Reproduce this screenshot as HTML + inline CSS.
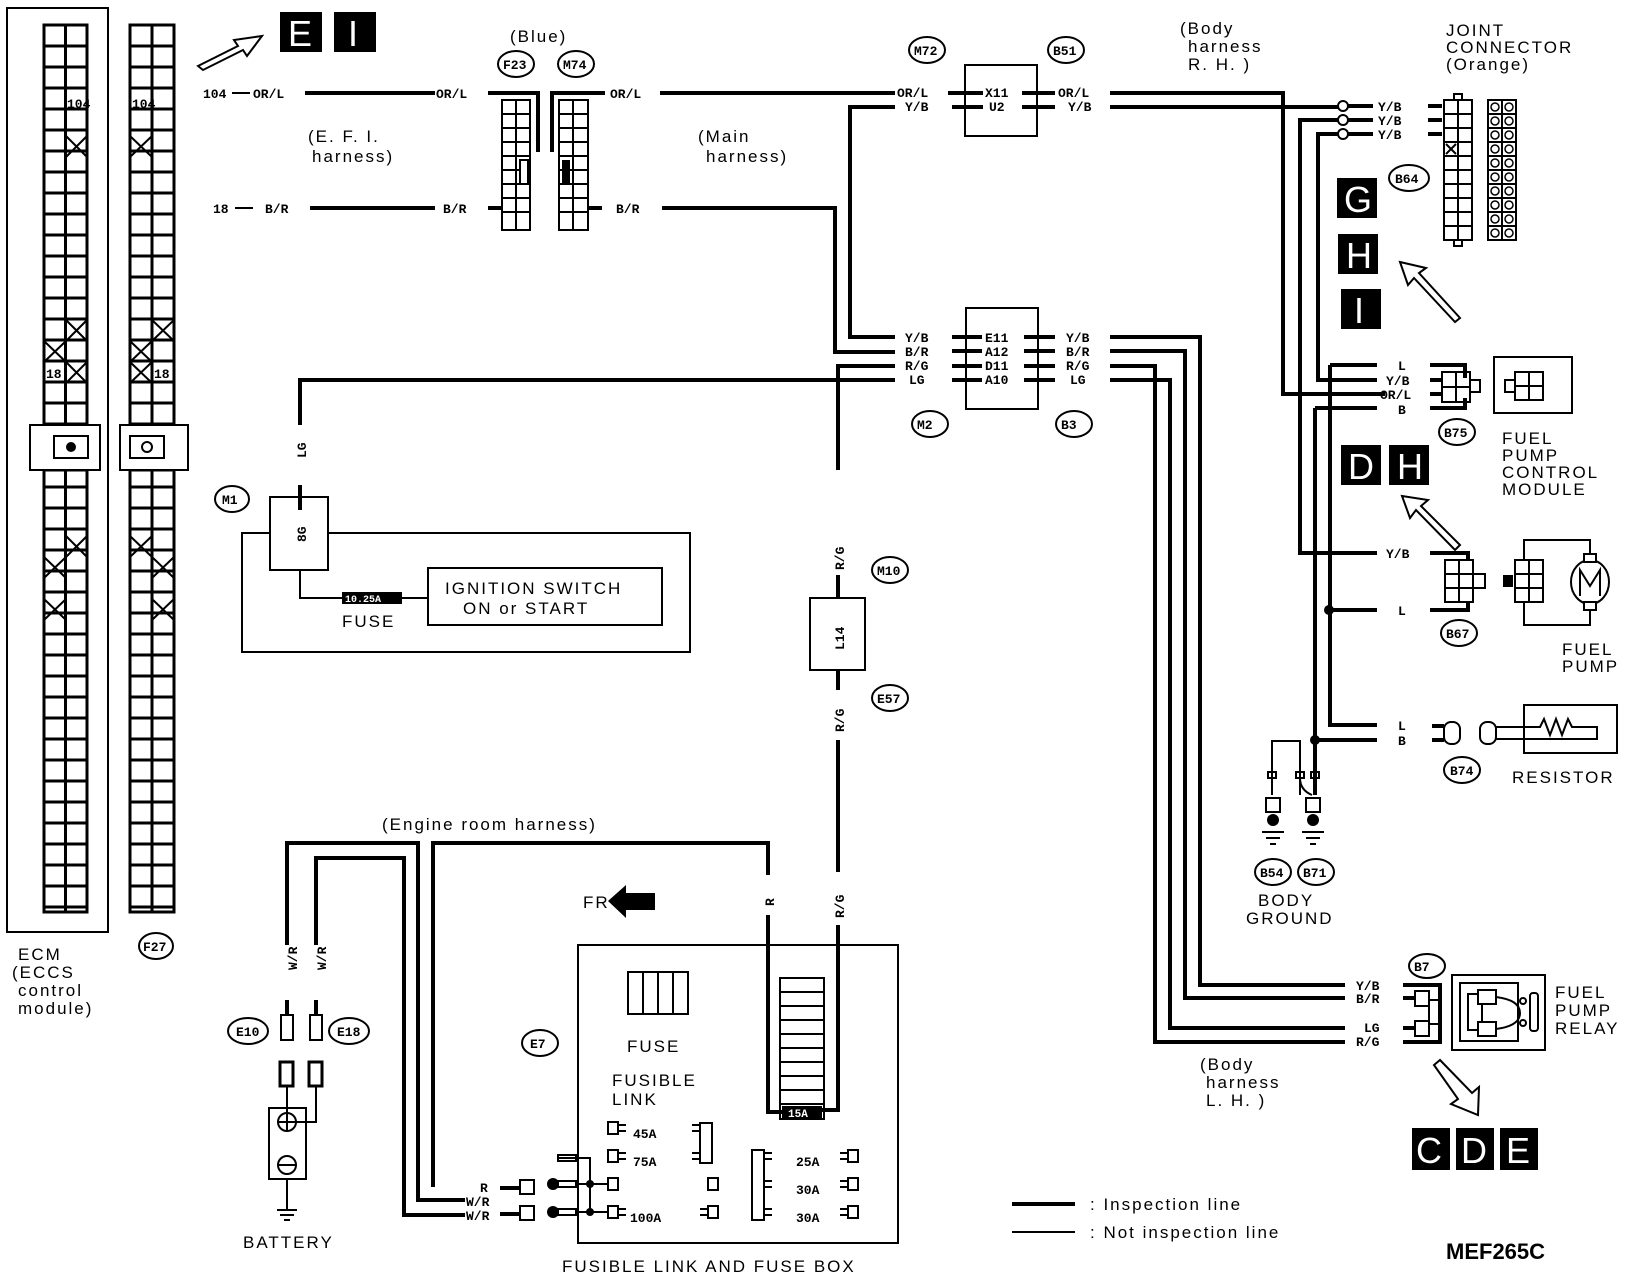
<!DOCTYPE html>
<html><head><meta charset="utf-8"><style>
html,body{margin:0;padding:0;background:#fff}
svg{display:block}
text{font-family:"Liberation Mono",monospace;font-weight:bold;fill:#000}
.s{font-size:13px}
.m{font-size:17px;font-family:"Liberation Sans",sans-serif;font-weight:normal;letter-spacing:2px}
.w{fill:none;stroke:#000;stroke-width:4}
.t{fill:none;stroke:#000;stroke-width:2}
.o{fill:#fff;stroke:#000;stroke-width:2}
.bx text{fill:#fff;font-family:"Liberation Sans",sans-serif;font-weight:normal;font-size:36px}
</style></head><body>
<svg width="1632" height="1280" viewBox="0 0 1632 1280" xmlns="http://www.w3.org/2000/svg">
<defs>
<pattern id="g" x="44" y="25" width="21.5" height="21" patternUnits="userSpaceOnUse">
<rect x="0" y="0" width="21.5" height="21" fill="#fff" stroke="#000" stroke-width="3"/>
</pattern>
<pattern id="g2" x="130" y="25" width="22" height="21" patternUnits="userSpaceOnUse">
<rect x="0" y="0" width="22" height="21" fill="#fff" stroke="#000" stroke-width="3"/>
</pattern>
</defs>

<!-- ECM -->
<rect x="7" y="8" width="101" height="924" class="t"/>
<rect x="44" y="25" width="43" height="400" fill="url(#g)" stroke="#000" stroke-width="3"/>
<rect x="44" y="470" width="43" height="442" fill="url(#g)" stroke="#000" stroke-width="3"/>
<rect x="30" y="425" width="70" height="45" class="o"/>
<rect x="54" y="436" width="34" height="22" class="o"/>
<circle cx="71" cy="447" r="5"/>
<rect x="130" y="25" width="44" height="400" fill="url(#g2)" stroke="#000" stroke-width="3"/>
<rect x="130" y="470" width="44" height="442" fill="url(#g2)" stroke="#000" stroke-width="3"/>
<rect x="120" y="425" width="68" height="45" class="o"/>
<rect x="130" y="436" width="34" height="22" class="o"/>
<circle cx="147" cy="447" r="5" class="o"/>
<g class="t">
<path d="M66 136 l21 21 M87 136 l-21 21 M66 320 l21 21 M87 320 l-21 21 M44 341 l22 21 M66 341 l-22 21 M66 362 l21 21 M87 362 l-21 21 M66 536 l21 21 M87 536 l-21 21 M44 557 l22 21 M66 557 l-22 21 M44 599 l22 21 M66 599 l-22 21"/>
<path d="M130 136 l22 21 M152 136 l-22 21 M152 320 l22 21 M174 320 l-22 21 M130 341 l22 21 M152 341 l-22 21 M130 362 l22 21 M152 362 l-22 21 M130 536 l22 21 M152 536 l-22 21 M152 557 l22 21 M174 557 l-22 21 M152 599 l22 21 M174 599 l-22 21"/>
</g>
<text x="67" y="108" class="s" font-size="11">104</text>
<text x="132" y="108" class="s" font-size="11">104</text>
<text x="46" y="378" class="s">18</text>
<text x="154" y="378" class="s">18</text>
<text x="18" y="960" class="m" font-size="15">ECM</text>
<text x="12" y="978" class="m" font-size="15">(ECCS</text>
<text x="18" y="996" class="m" font-size="15">control</text>
<text x="18" y="1014" class="m" font-size="15">module)</text>
<ellipse cx="156" cy="946" rx="17" ry="13" class="o"/><text x="143" y="951" class="s">F27</text>

<!-- E I boxes + arrow -->
<path d="M198 66 L238 46 L234 40 L262 36 L247 56 L243 50 L203 70 Z" class="t"/>
<g class="bx"><rect x="280" y="12" width="42" height="40"/><text x="288" y="46">E</text>
<rect x="334" y="12" width="42" height="40"/><text x="348" y="46">I</text></g>

<!-- Top left wires -->
<text x="203" y="98" class="s">104</text><path d="M232 93 h18" class="t"/>
<text x="253" y="98" class="s">OR/L</text>
<path d="M305 93 H435" class="w"/>
<text x="436" y="98" class="s">OR/L</text>
<path d="M488 93 H538 V152" class="w"/>
<text x="213" y="213" class="s">18</text><path d="M235 208 h18" class="t"/>
<text x="265" y="213" class="s">B/R</text>
<path d="M310 208 H435" class="w"/>
<text x="443" y="213" class="s">B/R</text>
<path d="M488 208 H503" class="w"/>
<text x="308" y="142" class="m" font-size="15">(E. F. I.</text>
<text x="312" y="162" class="m" font-size="15">harness)</text>
<text x="510" y="42" class="m" font-size="15">(Blue)</text>
<ellipse cx="516" cy="64" rx="18" ry="13" class="o"/><text x="503" y="69" class="s">F23</text>
<ellipse cx="576" cy="64" rx="18" ry="13" class="o"/><text x="563" y="69" class="s">M74</text>
<rect x="502" y="100" width="28" height="130" class="o"/>
<g class="t"><path d="M502 114h28M502 128h28M502 142h28M502 156h28M502 170h28M502 184h28M502 198h28M502 212h28M516 100v130"/>
<path d="M559 114h29M559 128h29M559 142h29M559 156h29M559 170h29M559 184h29M559 198h29M559 212h29M573 100v130"/></g>
<rect x="559" y="100" width="29" height="130" class="t"/>
<rect x="520" y="160" width="8" height="24" class="o"/>
<rect x="562" y="160" width="8" height="24" fill="#000"/>
<path d="M552 152 V93 H605" class="w"/>
<text x="610" y="98" class="s">OR/L</text>
<path d="M588 208 H602" class="w"/>
<text x="616" y="213" class="s">B/R</text>
<path d="M662 208 H835 V352 H895" class="w"/>
<path d="M660 93 H895" class="w"/>
<text x="698" y="142" class="m" font-size="15">(Main</text>
<text x="706" y="162" class="m" font-size="15">harness)</text>

<!-- M72/B51 -->
<ellipse cx="927" cy="50" rx="18" ry="13" class="o"/><text x="914" y="55" class="s">M72</text>
<ellipse cx="1066" cy="50" rx="18" ry="13" class="o"/><text x="1053" y="55" class="s">B51</text>
<rect x="965" y="65" width="72" height="71" class="t"/>
<text x="897" y="97" class="s">OR/L</text><text x="905" y="111" class="s">Y/B</text>
<text x="985" y="97" class="s">X11</text><text x="989" y="111" class="s">U2</text>
<text x="1058" y="97" class="s">OR/L</text><text x="1068" y="111" class="s">Y/B</text>
<path d="M948 93h35M952 107h31M1022 93h33M1022 107h33" class="w" stroke-width="3"/>
<path d="M895 107 H850 V337 H895" class="w"/>
<path d="M1110 93 H1283 V394 H1385" class="w"/>
<path d="M1110 107 H1338" class="w"/>
<circle cx="1343" cy="106" r="5" class="o" stroke-width="3"/>
<circle cx="1343" cy="120" r="5" class="o" stroke-width="3"/>
<circle cx="1343" cy="134" r="5" class="o" stroke-width="3"/>
<path d="M1338 120 H1300 V553 H1377" class="w"/>
<path d="M1338 134 H1318 V380 H1377" class="w"/>
<path d="M1348 106h25M1348 120h25M1348 134h25" class="w"/>
<text x="1378" y="111" class="s">Y/B</text><text x="1378" y="125" class="s">Y/B</text><text x="1378" y="139" class="s">Y/B</text>
<path d="M1428 106h14M1428 120h14M1428 134h14" class="w"/>
<rect x="1444" y="100" width="28" height="140" class="t"/>
<g class="t"><path d="M1444 114h28M1444 128h28M1444 142h28M1444 156h28M1444 170h28M1444 184h28M1444 198h28M1444 212h28M1444 226h28M1458 100v140M1446 144l10 10M1456 144l-10 10"/></g>
<rect x="1454" y="94" width="8" height="6" class="o"/><rect x="1454" y="240" width="8" height="6" class="o"/>
<rect x="1488" y="100" width="28" height="140" class="t" stroke-width="3"/>
<g class="t"><path d="M1488 114h28M1488 128h28M1488 142h28M1488 156h28M1488 170h28M1488 184h28M1488 198h28M1488 212h28M1488 226h28M1502 100v140"/></g>
<g fill="none" stroke="#000" stroke-width="1.5"><circle cx="1495" cy="107" r="4"/><circle cx="1509" cy="107" r="4"/><circle cx="1495" cy="121" r="4"/><circle cx="1509" cy="121" r="4"/><circle cx="1495" cy="135" r="4"/><circle cx="1509" cy="135" r="4"/><circle cx="1495" cy="149" r="4"/><circle cx="1509" cy="149" r="4"/><circle cx="1495" cy="163" r="4"/><circle cx="1509" cy="163" r="4"/><circle cx="1495" cy="177" r="4"/><circle cx="1509" cy="177" r="4"/><circle cx="1495" cy="191" r="4"/><circle cx="1509" cy="191" r="4"/><circle cx="1495" cy="205" r="4"/><circle cx="1509" cy="205" r="4"/><circle cx="1495" cy="219" r="4"/><circle cx="1509" cy="219" r="4"/><circle cx="1495" cy="233" r="4"/><circle cx="1509" cy="233" r="4"/></g>
<text x="1180" y="34" class="m" font-size="15">(Body</text>
<text x="1188" y="52" class="m" font-size="15">harness</text>
<text x="1188" y="70" class="m" font-size="15">R. H. )</text>
<text x="1446" y="36" class="m" font-size="15">JOINT</text>
<text x="1446" y="53" class="m" font-size="15">CONNECTOR</text>
<text x="1446" y="70" class="m" font-size="15">(Orange)</text>
<ellipse cx="1409" cy="178" rx="20" ry="13" class="o"/><text x="1395" y="183" class="s">B64</text>
<g class="bx"><rect x="1337" y="178" width="40" height="40"/><text x="1344" y="212">G</text>
<rect x="1338" y="234" width="40" height="40"/><text x="1346" y="268">H</text>
<rect x="1341" y="289" width="40" height="40"/><text x="1354" y="323">I</text></g>
<path d="M1400 262 L1426 268 L1419 273 L1460 318 L1455 322 L1414 278 L1408 285 Z" class="t"/>

<!-- M2/B3 -->
<rect x="966" y="308" width="72" height="101" class="t"/>
<text x="905" y="342" class="s">Y/B</text><text x="905" y="356" class="s">B/R</text><text x="905" y="370" class="s">R/G</text><text x="909" y="384" class="s">LG</text>
<text x="985" y="342" class="s">E11</text><text x="985" y="356" class="s">A12</text><text x="985" y="370" class="s">D11</text><text x="985" y="384" class="s">A10</text>
<text x="1066" y="342" class="s">Y/B</text><text x="1066" y="356" class="s">B/R</text><text x="1066" y="370" class="s">R/G</text><text x="1070" y="384" class="s">LG</text>
<path d="M952 337h30M952 351h30M952 366h30M952 380h30M1024 337h31M1024 351h31M1024 366h31M1024 380h31" class="w" stroke-width="3"/>
<ellipse cx="930" cy="424" rx="18" ry="13" class="o"/><text x="917" y="429" class="s">M2</text>
<ellipse cx="1074" cy="424" rx="18" ry="13" class="o"/><text x="1061" y="429" class="s">B3</text>
<path d="M895 366 H838 V470" class="w"/>
<path d="M895 380 H300 V425" class="w"/>
<path d="M1110 337 H1200 V985 H1345" class="w"/>
<path d="M1110 351 H1185 V998 H1345" class="w"/>
<path d="M1110 366 H1155 V1042 H1345" class="w"/>
<path d="M1110 380 H1170 V1028 H1345" class="w"/>

<!-- M1 / ignition -->
<text x="306" y="458" class="s" transform="rotate(-90 306 458)">LG</text>
<path d="M300 485 V497" class="w"/>
<ellipse cx="232" cy="499" rx="17" ry="13" class="o"/><text x="222" y="504" class="s">M1</text>
<rect x="270" y="497" width="58" height="73" class="t"/>
<text x="306" y="542" class="s" font-size="11" transform="rotate(-90 306 542)">8G</text>
<path d="M300 497 V510" class="w"/>
<path d="M328 533 H690 V652 H242 V533 H270" class="t"/>
<path d="M300 570 V598 H342" class="t"/>
<rect x="342" y="592" width="60" height="12" fill="#000"/>
<text x="345" y="602" font-size="10" style="fill:#fff">10.25A</text>
<path d="M402 598 H428" class="t"/>
<text x="342" y="627" class="m" font-size="18">FUSE</text>
<rect x="428" y="568" width="234" height="57" class="o"/>
<text x="445" y="594" class="m" font-size="18">IGNITION SWITCH</text>
<text x="463" y="614" class="m" font-size="18">ON or START</text>

<!-- M10 / E57 -->
<text x="844" y="570" class="s" transform="rotate(-90 844 570)">R/G</text>
<path d="M838 575 V598" class="w"/>
<ellipse cx="890" cy="570" rx="18" ry="13" class="o"/><text x="877" y="575" class="s">M10</text>
<rect x="810" y="598" width="55" height="72" class="t"/>
<text x="844" y="650" class="s" transform="rotate(-90 844 650)">L14</text>
<path d="M838 670 V690" class="w"/>
<ellipse cx="890" cy="698" rx="18" ry="13" class="o"/><text x="877" y="703" class="s">E57</text>
<text x="844" y="732" class="s" transform="rotate(-90 844 732)">R/G</text>
<path d="M838 740 V872" class="w"/>
<text x="844" y="918" class="s" transform="rotate(-90 844 918)">R/G</text>
<path d="M838 925 V1110 H822" class="w"/>

<!-- engine room wires -->
<text x="382" y="830" class="m" font-size="15">(Engine room harness)</text>
<path d="M287 945 V843 H418 V1200 H465" class="w"/>
<path d="M316 945 V858 H404 V1215 H465" class="w"/>
<path d="M433 1187 V843 H768 V875" class="w"/>
<text x="774" y="906" class="s" transform="rotate(-90 774 906)">R</text>
<path d="M768 915 V1112 H783" class="w"/>
<text x="297" y="970" class="s" transform="rotate(-90 297 970)">W/R</text>
<text x="326" y="970" class="s" transform="rotate(-90 326 970)">W/R</text>
<text x="480" y="1192" class="s" font-size="11">R</text>
<text x="466" y="1206" class="s" font-size="11">W/R</text>
<text x="466" y="1220" class="s" font-size="11">W/R</text>

<!-- E10/E18, battery -->
<ellipse cx="248" cy="1031" rx="20" ry="13" class="o"/><text x="236" y="1036" class="s">E10</text>
<ellipse cx="349" cy="1031" rx="20" ry="13" class="o"/><text x="337" y="1036" class="s">E18</text>
<path d="M287 1000 V1015 M316 1000 V1015" class="w"/>
<rect x="281" y="1015" width="12" height="25" class="t"/><rect x="310" y="1015" width="12" height="25" class="t"/>
<rect x="280" y="1062" width="13" height="24" fill="#fff" stroke="#000" stroke-width="3"/><rect x="309" y="1062" width="13" height="24" fill="#fff" stroke="#000" stroke-width="3"/>
<path d="M287 1086 V1120 M316 1086 V1122 H296" class="t"/>
<rect x="269" y="1108" width="37" height="71" class="t"/>
<circle cx="287" cy="1122" r="9" class="t"/><path d="M278 1122h18M287 1113v18" class="t"/>
<circle cx="287" cy="1165" r="9" class="t"/><path d="M278 1165h18" class="t"/>
<path d="M287 1179 V1210 M277 1210h20M280 1215h14M284 1220h6" class="t"/>
<text x="243" y="1248" class="m" font-size="16">BATTERY</text>

<!-- fuse box -->
<text x="583" y="908" class="m" font-size="16">FR</text>
<path d="M608 901 L626 885 V893 H655 V910 H626 V918 Z" fill="#000"/>
<ellipse cx="540" cy="1043" rx="18" ry="13" class="o"/><text x="530" y="1048" class="s">E7</text>
<rect x="578" y="945" width="320" height="298" class="t"/>
<rect x="628" y="972" width="60" height="42" class="t"/><path d="M643 972v42M658 972v42M673 972v42" class="t"/>
<text x="627" y="1052" class="m" font-size="17">FUSE</text>
<text x="612" y="1086" class="m" font-size="17">FUSIBLE</text>
<text x="612" y="1105" class="m" font-size="17">LINK</text>
<rect x="780" y="978" width="44" height="141" class="t"/>
<path d="M780 992h44M780 1006h44M780 1020h44M780 1034h44M780 1048h44M780 1062h44M780 1076h44M780 1090h44M780 1104h44" class="t"/>
<rect x="782" y="1106" width="40" height="13" fill="#000"/>
<text x="788" y="1117" font-size="11" style="fill:#fff">15A</text>
<g class="t">
<rect x="608" y="1122" width="10" height="12"/><path d="M618 1125h8M618 1131h8"/>
<rect x="608" y="1150" width="10" height="12"/><path d="M618 1153h8M618 1159h8"/>
<rect x="608" y="1178" width="10" height="12"/>
<rect x="608" y="1206" width="10" height="12"/><path d="M618 1209h8M618 1215h8"/>
<path d="M692 1125h8M692 1131h8M692 1153h8M692 1159h8"/><rect x="700" y="1123" width="12" height="40"/>
<rect x="708" y="1178" width="10" height="12"/>
<path d="M700 1209h8M700 1215h8"/><rect x="708" y="1206" width="10" height="12"/>
<rect x="752" y="1150" width="12" height="70"/>
<path d="M764 1153h8M764 1159h8M764 1181h8M764 1187h8M764 1209h8M764 1215h8"/>
<path d="M840 1153h8M840 1159h8M840 1181h8M840 1187h8M840 1209h8M840 1215h8"/>
<rect x="848" y="1150" width="10" height="12"/><rect x="848" y="1178" width="10" height="12"/><rect x="848" y="1206" width="10" height="12"/>
<path d="M558 1158 H590 V1212 M575 1184h33M575 1212h33"/>
<rect x="558" y="1155" width="18" height="6"/><rect x="558" y="1181" width="18" height="6"/><rect x="558" y="1209" width="18" height="6"/>
</g>
<circle cx="590" cy="1184" r="4"/><circle cx="590" cy="1212" r="4"/>
<circle cx="553" cy="1184" r="6"/><circle cx="553" cy="1212" r="6"/>
<path d="M500 1188 h20 M500 1214 h20" class="w"/>
<rect x="520" y="1180" width="14" height="14" class="t"/><rect x="520" y="1206" width="14" height="14" class="t"/>
<text x="633" y="1138" class="s">45A</text>
<text x="633" y="1166" class="s">75A</text>
<text x="630" y="1222" class="s">100A</text>
<text x="796" y="1166" class="s">25A</text><text x="796" y="1194" class="s">30A</text><text x="796" y="1222" class="s">30A</text>
<text x="562" y="1272" class="m" font-size="16">FUSIBLE LINK AND FUSE BOX</text>

<!-- B75 fuel pump control module -->
<path d="M1330 365 V725 H1377" class="w"/>
<path d="M1315 408 V780" class="w"/>
<path d="M1330 365 H1377 M1315 408 H1377" class="w"/>
<text x="1398" y="370" class="s">L</text><text x="1386" y="385" class="s">Y/B</text><text x="1380" y="399" class="s">OR/L</text><text x="1398" y="414" class="s">B</text>
<path d="M1430 365 H1465 V378 M1430 380 H1442 M1430 394 H1442 M1430 408 H1465 V398" class="w" stroke-width="3"/>
<rect x="1442" y="372" width="28" height="30" class="t"/><path d="M1456 372v30M1442 387h28" class="t"/>
<rect x="1470" y="380" width="10" height="12" class="t"/>
<rect x="1494" y="357" width="78" height="56" class="t"/>
<rect x="1505" y="380" width="10" height="12" class="t"/>
<rect x="1515" y="372" width="28" height="28" class="t"/><path d="M1529 372v28M1515 386h28" class="t"/>
<ellipse cx="1457" cy="432" rx="18" ry="13" class="o"/><text x="1444" y="437" class="s">B75</text>
<text x="1502" y="444" class="m" font-size="16">FUEL</text>
<text x="1502" y="461" class="m" font-size="16">PUMP</text>
<text x="1502" y="478" class="m" font-size="16">CONTROL</text>
<text x="1502" y="495" class="m" font-size="16">MODULE</text>
<g class="bx"><rect x="1341" y="445" width="40" height="40"/><text x="1348" y="479">D</text>
<rect x="1389" y="445" width="40" height="40"/><text x="1397" y="479">H</text></g>
<path d="M1402 496 L1428 500 L1421 506 L1460 545 L1455 550 L1416 510 L1410 518 Z" class="t"/>

<!-- B67 fuel pump -->
<text x="1386" y="558" class="s">Y/B</text>
<path d="M1430 553 H1468 V560 M1430 610 H1468 V603" class="w" stroke-width="3"/>
<path d="M1328 610 H1377" class="w"/><circle cx="1329" cy="610" r="5"/>
<text x="1398" y="615" class="s">L</text>
<rect x="1445" y="560" width="28" height="42" class="t"/><path d="M1459 560v42M1445 574h28M1445 588h28" class="t"/>
<rect x="1473" y="574" width="12" height="14" class="t"/>
<rect x="1503" y="575" width="10" height="12" fill="#000"/>
<rect x="1515" y="560" width="28" height="42" class="t"/><path d="M1529 560v42M1515 574h28M1515 588h28" class="t"/>
<path d="M1524 560 V540 H1590 V556 M1524 602 V625 H1590 V608" class="t"/>
<ellipse cx="1590" cy="582" rx="19" ry="22" class="t"/>
<rect x="1584" y="554" width="12" height="8" class="o"/><rect x="1584" y="602" width="12" height="8" class="o"/>
<path d="M1580 596 V570 L1590 586 L1600 570 V596" class="t"/>
<ellipse cx="1459" cy="633" rx="18" ry="13" class="o"/><text x="1446" y="638" class="s">B67</text>
<text x="1562" y="655" class="m" font-size="16">FUEL</text>
<text x="1562" y="672" class="m" font-size="16">PUMP</text>

<!-- B74 resistor -->
<text x="1398" y="730" class="s">L</text><text x="1398" y="745" class="s">B</text>
<path d="M1315 740 H1377" class="w"/><circle cx="1315" cy="740" r="5"/>
<path d="M1432 726h12M1432 740h12" class="w" stroke-width="3"/>
<rect x="1444" y="722" width="16" height="22" rx="7" class="t"/>
<rect x="1480" y="722" width="16" height="22" rx="7" class="t" stroke-width="3"/>
<path d="M1496 727 H1530 M1496 739 H1530" class="t"/>
<rect x="1524" y="705" width="93" height="48" class="t"/>
<path d="M1529 727 H1540 l4 -8 l6 16 l6 -16 l6 16 l6 -16 l4 8 H1597 V739 H1529" class="t"/>
<ellipse cx="1462" cy="770" rx="18" ry="13" class="o"/><text x="1450" y="775" class="s">B74</text>
<text x="1512" y="783" class="m" font-size="16">RESISTOR</text>

<!-- grounds -->
<path d="M1315 780 V795" class="w"/>
<path d="M1272 795 V741 H1300 V795" class="t"/>
<rect x="1268" y="772" width="8" height="6" class="t"/><rect x="1296" y="772" width="8" height="6" class="t"/><rect x="1311" y="772" width="8" height="6" class="t"/>
<path d="M1300 778 Q1300 790 1312 795" class="t"/>
<rect x="1266" y="798" width="14" height="14" class="t"/><rect x="1306" y="798" width="14" height="14" class="t"/>
<circle cx="1273" cy="820" r="6"/><circle cx="1313" cy="820" r="6"/>
<path d="M1262 832h22M1266 838h14M1270 844h6M1302 832h22M1306 838h14M1310 844h6" class="t"/>
<ellipse cx="1273" cy="872" rx="18" ry="13" class="o"/><text x="1260" y="877" class="s">B54</text>
<ellipse cx="1316" cy="872" rx="18" ry="13" class="o"/><text x="1303" y="877" class="s">B71</text>
<text x="1258" y="906" class="m" font-size="16">BODY</text>
<text x="1246" y="924" class="m" font-size="16">GROUND</text>

<!-- relay -->
<ellipse cx="1427" cy="966" rx="18" ry="12" class="o"/><text x="1414" y="971" class="s">B7</text>
<text x="1356" y="990" class="s">Y/B</text><text x="1356" y="1003" class="s">B/R</text>
<text x="1364" y="1032" class="s">LG</text><text x="1356" y="1046" class="s">R/G</text>
<path d="M1403 985 H1440 V1042 H1403" class="w" stroke-width="3"/>
<path d="M1403 998 H1420 M1403 1028 H1420" class="w" stroke-width="3"/>
<rect x="1415" y="991" width="14" height="15" class="o"/><rect x="1415" y="1021" width="14" height="15" class="o"/>
<rect x="1429" y="1000" width="10" height="24" class="t"/>
<rect x="1452" y="975" width="93" height="75" class="t"/>
<rect x="1460" y="983" width="58" height="58" class="t"/>
<rect x="1468" y="994" width="14" height="36" class="o"/>
<rect x="1478" y="990" width="18" height="14" class="o"/><rect x="1478" y="1022" width="18" height="14" class="o"/>
<path d="M1496 997 Q1520 1000 1520 1013 Q1520 1026 1496 1029" class="t"/>
<circle cx="1523" cy="1001" r="3" class="t"/><circle cx="1523" cy="1023" r="3" class="t"/>
<rect x="1530" y="993" width="8" height="38" rx="3" class="t"/>
<text x="1555" y="998" class="m" font-size="16">FUEL</text>
<text x="1555" y="1016" class="m" font-size="16">PUMP</text>
<text x="1555" y="1034" class="m" font-size="16">RELAY</text>
<path d="M1440 1060 L1472 1093 L1479 1087 L1478 1115 L1451 1104 L1458 1099 L1434 1065 Z" class="t"/>
<g class="bx"><rect x="1412" y="1128" width="38" height="42"/><text x="1416" y="1163">C</text>
<rect x="1456" y="1128" width="38" height="42"/><text x="1461" y="1163">D</text>
<rect x="1500" y="1128" width="38" height="42"/><text x="1506" y="1163">E</text></g>
<text x="1200" y="1070" class="m" font-size="15">(Body</text>
<text x="1206" y="1088" class="m" font-size="15">harness</text>
<text x="1206" y="1106" class="m" font-size="15">L. H. )</text>

<!-- legend -->
<path d="M1012 1204 H1075" class="w"/>
<path d="M1012 1232 H1075" class="t" stroke-width="3"/>
<text x="1090" y="1210" class="m" font-size="16">: Inspection line</text>
<text x="1090" y="1238" class="m" font-size="16">: Not inspection line</text>
<text x="1446" y="1259" font-size="22" style="font-family:'Liberation Sans',sans-serif;font-weight:bold">MEF265C</text>
</svg>
</body></html>
